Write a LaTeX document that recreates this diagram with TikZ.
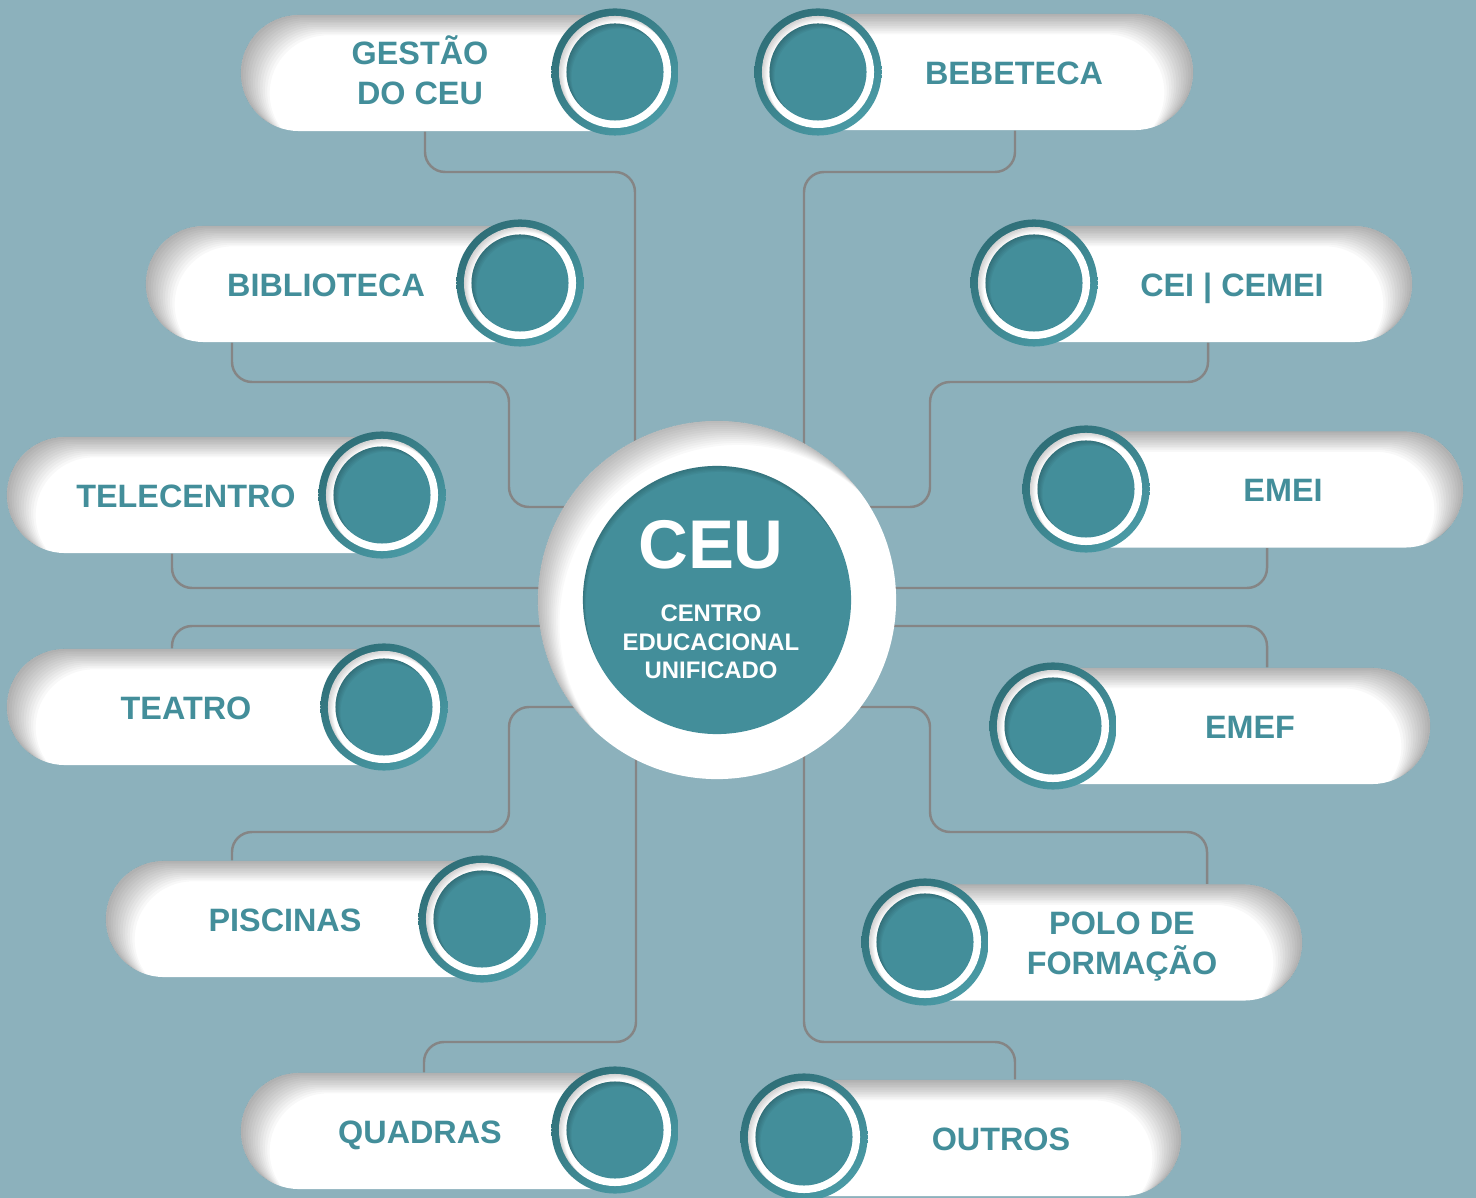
\documentclass[tikz,border=0pt]{standalone}
\usepackage{fontspec}
\setmainfont{Liberation Sans}
\usetikzlibrary{calc}
\definecolor{bgc}{HTML}{8CB1BC}
\definecolor{tealc}{HTML}{438E9A}
\definecolor{ringdark}{HTML}{2F6F78}
\definecolor{ringlight}{HTML}{4A9AA5}
\definecolor{connc}{HTML}{858585}
\pgfdeclarelayer{bglayer}
\pgfdeclarelayer{connlayer}
\pgfsetlayers{bglayer,connlayer,main}
\tikzset{
  pillbase/.style={rectangle, rounded corners=0.579cm, minimum height=1.16cm, inner sep=0pt, fill=white},
  pillL/.style={pillbase, minimum width=#1, path picture={
     \foreach \k in {1,...,12}{
       \fill[black,opacity=0.026,even odd rule,sharp corners]
         ($(path picture bounding box.south west)+(-60,60)$) rectangle ($(path picture bounding box.north east)+(60,-60)$)
         [rounded corners=0.579cm] ($(path picture bounding box.south west)+(\k*2.4,\k*1.7)$) rectangle ($(path picture bounding box.north east)+(\k*2.4,\k*1.7)$);}
  }},
  pillR/.style={pillbase, minimum width=#1, path picture={
     \foreach \k in {1,...,12}{
       \fill[black,opacity=0.026,even odd rule,sharp corners]
         ($(path picture bounding box.south west)+(-60,60)$) rectangle ($(path picture bounding box.north east)+(60,-60)$)
         [rounded corners=0.579cm] ($(path picture bounding box.south west)+(-\k*2.4,\k*1.7)$) rectangle ($(path picture bounding box.north east)+(-\k*2.4,\k*1.7)$);}
  }},
  bubble/.style={circle, minimum size=1.27cm, inner sep=0pt, path picture={
     \shade[top color=ringdark, bottom color=ringlight, shading angle=40]
        (path picture bounding box.south west) rectangle (path picture bounding box.north east);
     \fill[white] (path picture bounding box.center) circle (0.56cm);
     \begin{scope}
       \clip (path picture bounding box.center) circle (0.56cm);
       \foreach \k in {1,...,5}{
         \fill[black,opacity=0.035,even odd rule]
           ($(path picture bounding box.center)+(-80,-80)$) rectangle ($(path picture bounding box.center)+(80,80)$)
           ($(path picture bounding box.center)+(\k*1.1,\k*1.1)$) circle (0.56cm);}
     \end{scope}
     \fill[tealc] (path picture bounding box.center) circle (0.485cm);
     \begin{scope}
       \clip (path picture bounding box.center) circle (0.485cm);
       \foreach \k in {1,...,5}{
         \fill[black,opacity=0.04,even odd rule]
           ($(path picture bounding box.center)+(-80,-80)$) rectangle ($(path picture bounding box.center)+(80,80)$)
           ($(path picture bounding box.center)+(\k*1.0,\k*1.0)$) circle (0.485cm);}
     \end{scope}
  }},
  hub/.style={circle, minimum size=3.58cm, inner sep=0pt, fill=white, path picture={
     \foreach \k in {1,...,12}{
       \fill[black,opacity=0.025,even odd rule]
         ($(path picture bounding box.center)+(-250,-250)$) rectangle ($(path picture bounding box.center)+(250,250)$)
         ($(path picture bounding box.center)+(\k*1.8,\k*2.0)$) circle (1.79cm);}
     \fill[tealc] (path picture bounding box.center) circle (1.34cm);
     \begin{scope}
       \clip (path picture bounding box.center) circle (1.34cm);
       \foreach \k in {1,...,5}{
         \fill[black,opacity=0.035,even odd rule]
           ($(path picture bounding box.center)+(-200,-200)$) rectangle ($(path picture bounding box.center)+(200,200)$)
           ($(path picture bounding box.center)+(\k*0.6,\k*1.2)$) circle (1.34cm);}
     \end{scope}
  }},
  lbl/.style={font=\fontsize{9.2}{11.4}\selectfont\bfseries, text=tealc, align=center, inner sep=0pt},
  lbl1/.style={lbl, text height=6.6pt, text depth=0pt},
  conn/.style={draw=connc, line width=0.7pt, rounded corners=0.2cm}
}
\begin{document}
\begin{tikzpicture}[x=0.01cm,y=-0.01cm]
\useasboundingbox (0,0) rectangle (1476,1198);
\begin{pgfonlayer}{bglayer}
  \fill[bgc] (0,0) rectangle (1476,1198);
\end{pgfonlayer}

% pills
\node[pillL=4.32cm] (p1) at (457,73) {};
\node[pillR=4.33cm] (p2) at (976.5,72) {};
\node[pillL=4.32cm] (p3) at (362,284) {};
\node[pillR=4.36cm] (p4) at (1194,284) {};
\node[pillL=4.33cm] (p5) at (223.5,495) {};
\node[pillR=4.35cm] (p6) at (1245.5,489.5) {};
\node[pillL=4.35cm] (p7) at (224.5,707) {};
\node[pillR=4.35cm] (p8) at (1212.5,726) {};
\node[pillL=4.34cm] (p9) at (323,919) {};
\node[pillR=4.35cm] (p10) at (1084.5,942.5) {};
\node[pillL=4.32cm] (p11) at (457,1131) {};
\node[pillR=4.35cm] (p12) at (963.5,1138) {};

% bubbles
\node[bubble] (b1) at (615,72) {};
\node[bubble] (b2) at (818,72) {};
\node[bubble] (b3) at (520,283) {};
\node[bubble] (b4) at (1034,283) {};
\node[bubble] (b5) at (382,495) {};
\node[bubble] (b6) at (1086,489) {};
\node[bubble] (b7) at (384,707) {};
\node[bubble] (b8) at (1053,726) {};
\node[bubble] (b9) at (482,919) {};
\node[bubble] (b10) at (925,942) {};
\node[bubble] (b11) at (615,1130) {};
\node[bubble] (b12) at (804,1137) {};

% hub
\node[hub] (ceu) at (717,600) {};
\node[font=\fontsize{19.6}{22}\selectfont\bfseries, text=white, inner sep=0pt] (ceut) at (711,545) {CEU};
\node[font=\fontsize{6.8}{8.1}\selectfont\bfseries, text=white, align=center, inner sep=0pt] (ceus) at (711,642) {CENTRO\\EDUCACIONAL\\UNIFICADO};

% labels
\node[lbl] (t1) at (420,70) {GESTÃO\\DO CEU};
\node[lbl1] (t2) at (1014,72.5) {BEBETECA};
\node[lbl1] (t3) at (326,285) {BIBLIOTECA};
\node[lbl1] (t4) at (1232,285) {CEI | CEMEI};
\node[lbl1] (t5) at (186,495.5) {TELECENTRO};
\node[lbl1] (t6) at (1283,489.5) {EMEI};
\node[lbl1] (t7) at (186,707.5) {TEATRO};
\node[lbl1] (t8) at (1250,726.5) {EMEF};
\node[lbl1] (t9) at (285,919.5) {PISCINAS};
\node[lbl] (t10) at (1122,947) {POLO DE\\FORMAÇÃO};
\node[lbl1] (t11) at (420,1131.5) {QUADRAS};
\node[lbl1] (t12) at (1001,1138.5) {OUTROS};

% connectors
\begin{pgfonlayer}{connlayer}
  \draw[conn] (p1.south -| 425,0) -- (425,172) -- (635,172) -- (ceu.center -| 635,0);
  \draw[conn] (p3.south -| 232,0) -- (232,382) -- (509,382) -- (509,507) -- (ceu.center |- 0,507);
  \draw[conn] (p5.south -| 172,0) -- (172,588) -- (ceu.center |- 0,588);
  \draw[conn] (p7.north -| 172,0) -- (172,626) -- (ceu.center |- 0,626);
  \draw[conn] (p9.north -| 232,0) -- (232,832) -- (509,832) -- (509,707) -- (ceu.center |- 0,707);
  \draw[conn] (p11.north -| 424,0) -- (424,1042) -- (636,1042) -- (ceu.center -| 636,0);
  \draw[conn] (p2.south -| 1015,0) -- (1015,172) -- (804,172) -- (ceu.center -| 804,0);
  \draw[conn] (p4.south -| 1208,0) -- (1208,382) -- (930,382) -- (930,507) -- (ceu.center |- 0,507);
  \draw[conn] (p6.south -| 1267,0) -- (1267,588) -- (ceu.center |- 0,588);
  \draw[conn] (p8.north -| 1267,0) -- (1267,626) -- (ceu.center |- 0,626);
  \draw[conn] (p10.north -| 1207,0) -- (1207,832) -- (930,832) -- (930,707) -- (ceu.center |- 0,707);
  \draw[conn] (p12.north -| 1015,0) -- (1015,1042) -- (804,1042) -- (ceu.center -| 804,0);
\end{pgfonlayer}
\end{tikzpicture}
\end{document}
